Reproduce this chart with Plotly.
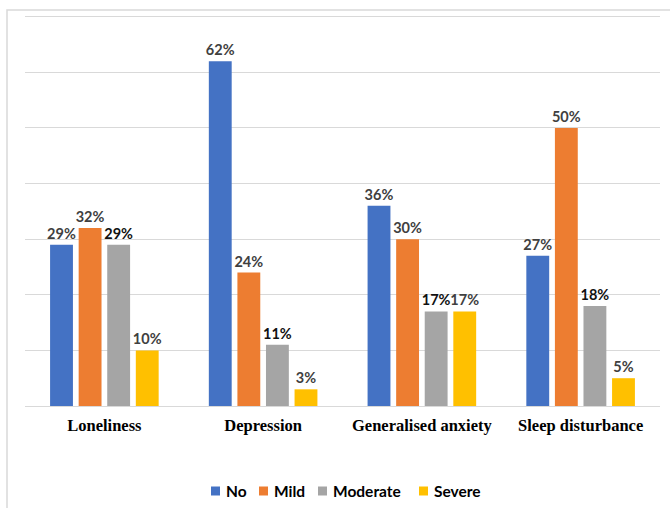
import plotly.graph_objects as go

categories = ["Loneliness", "Depression", "Generalised anxiety", "Sleep disturbance"]
series_names = ["No", "Mild", "Moderate", "Severe"]
no_vals = [29, 62, 36, 27]
mild_vals = [32, 24, 30, 50]
moderate_vals = [29, 11, 17, 18]
severe_vals = [10, 3, 17, 5]
colors = ["#4472C4", "#ED7D31", "#A5A5A5", "#FFC000"]
label_colors = ["#404040", "#404040", "#111111", "#404040"]

# legend layout (pixel positions of each entry's square, left edge)
legend_x_px = [211, 259, 318, 419]
legend_y_px = 491

W, H = 670, 508
ML, MR, MT, MB = 25, 10, 14, 102
PW, PH = W - ML - MR, H - MT - MB


def px_x(px):
    return (px - ML) / PW


def px_y(py):
    return (H - MB - py) / PH


fig = go.Figure()
for name, vals, col, lc in zip(series_names, [no_vals, mild_vals, moderate_vals, severe_vals], colors, label_colors):
    fig.add_trace(go.Bar(
        x=categories, y=vals, name=name, marker=dict(color=col, line=dict(width=0)),
        text=[f"{v}%" for v in vals], textposition="outside", constraintext="none",
        textfont=dict(family="Lato", size=14.5, color=lc, weight="bold"),
        cliponaxis=False, showlegend=False,
    ))

shapes = [dict(type="rect", xref="paper", yref="paper",
               x0=px_x(7), x1=px_x(680), y0=px_y(520), y1=px_y(10),
               line=dict(color="#d9d9d9", width=1.5), fillcolor="rgba(0,0,0,0)", layer="below")]
annotations = []
for name, col, lx in zip(series_names, colors, legend_x_px):
    shapes.append(dict(type="rect", xref="paper", yref="paper",
                       x0=px_x(lx), x1=px_x(lx + 9), y0=px_y(legend_y_px + 4.5), y1=px_y(legend_y_px - 4.5),
                       line=dict(width=0), fillcolor=col))
    annotations.append(dict(text=name, xref="paper", yref="paper", x=px_x(lx + 13), y=px_y(legend_y_px),
                            xanchor="left", yanchor="middle", showarrow=False,
                            font=dict(family="Lato", size=15.5, color="#000000", weight="bold")))

fig.update_layout(
    width=W, height=H,
    margin=dict(l=ML, r=MR, t=MT, b=MB, autoexpand=False),
    paper_bgcolor="white", plot_bgcolor="white",
    barmode="group", bargap=0.28, bargroupgap=0.2,
    showlegend=False,
    xaxis=dict(showgrid=False, showline=False, ticks="", automargin=False, ticklabelstandoff=7,
               tickfont=dict(family="Liberation Serif", size=16.5, color="#000000", weight="bold")),
    yaxis=dict(range=[0, 70.5], dtick=10, showgrid=True, gridcolor="#d9d9d9", gridwidth=1,
               showticklabels=False, zeroline=True, zerolinecolor="#d9d9d9", zerolinewidth=1,
               showline=False, ticks="", automargin=False),
    shapes=shapes,
    annotations=annotations,
)

fig.write_html("out.html")
